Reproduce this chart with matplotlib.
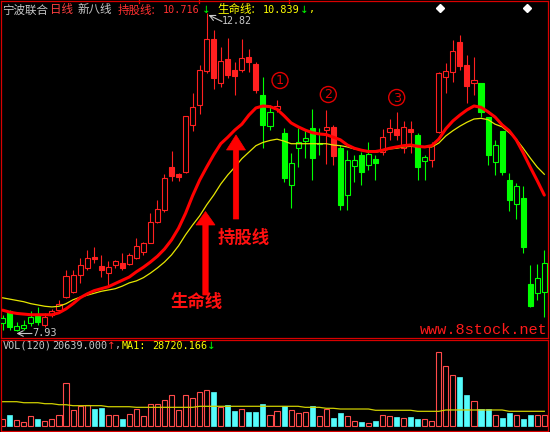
import matplotlib
matplotlib.use("Agg")
import matplotlib.pyplot as plt
from matplotlib.patches import Rectangle, Polygon, Circle

plt.rcParams['font.family'] = ['Noto Sans CJK SC', 'DejaVu Sans']

# ---- daily bars: 宁波联合 ----
opens = [8.05, 8.23, 7.95, 7.98, 8.05, 8.16, 8.02, 8.18, 8.25, 8.46,
         8.53, 8.79, 8.90, 9.07, 8.93, 8.82, 8.95, 8.98, 8.96, 9.05,
         9.15, 9.28, 9.61, 9.79, 10.45, 10.34, 10.38, 11.10, 11.41, 11.93,
         12.42, 11.74, 12.11, 11.94, 11.94, 12.14, 12.04, 11.56, 11.08, 11.34,
         10.98, 10.18, 10.74, 10.85, 11.05, 10.80, 11.02, 11.07, 10.74, 10.02,
         10.47, 10.64, 10.48, 10.58, 10.69, 10.99, 11.04, 10.74, 11.04, 10.94,
         10.54, 10.56, 10.99, 11.83, 11.92, 12.38, 12.02, 11.74, 11.74, 11.22,
         10.53, 11.01, 10.25, 9.88, 9.98, 8.65, 8.52, 8.53]
closes = [8.13, 7.99, 8.00, 8.02, 8.15, 8.07, 8.15, 8.23, 8.35, 8.78,
          8.79, 8.95, 9.05, 9.04, 8.87, 8.92, 9.01, 8.90, 9.10, 9.24,
          9.28, 9.61, 9.81, 10.28, 10.31, 10.30, 11.24, 11.38, 11.94, 12.42,
          11.82, 12.08, 11.87, 11.85, 12.13, 12.07, 11.64, 11.10, 11.30, 11.39,
          10.28, 10.51, 10.83, 10.90, 10.59, 10.82, 11.07, 10.62, 9.87, 10.56,
          10.56, 10.38, 10.65, 10.51, 10.92, 11.05, 10.94, 11.07, 10.99, 10.45,
          10.61, 10.79, 11.90, 11.93, 12.23, 12.01, 11.70, 11.79, 11.30, 10.64,
          10.79, 10.38, 9.94, 10.16, 9.22, 8.31, 8.75, 8.98]
highs = [8.18, 8.25, 8.07, 8.10, 8.23, 8.30, 8.21, 8.27, 8.41, 8.87,
         8.87, 9.05, 9.18, 9.22, 9.10, 9.01, 9.02, 9.13, 9.13, 9.36,
         9.30, 9.74, 9.94, 10.34, 10.70, 10.36, 11.24, 11.59, 12.02, 12.82,
         12.56, 12.30, 12.44, 12.07, 12.42, 12.27, 12.07, 11.84, 11.41, 11.48,
         11.05, 10.67, 11.05, 11.02, 11.34, 11.05, 11.33, 11.10, 10.79, 10.71,
         10.64, 10.68, 10.84, 10.64, 11.04, 11.19, 11.30, 11.16, 11.16, 10.98,
         10.64, 10.84, 11.91, 12.05, 12.41, 12.48, 12.17, 12.15, 11.74, 11.22,
         10.87, 11.01, 10.36, 10.21, 10.16, 8.95, 8.96, 9.17]
lows = [7.95, 7.95, 7.93, 7.95, 8.00, 8.02, 7.99, 8.15, 8.23, 8.44,
        8.51, 8.67, 8.87, 8.98, 8.76, 8.64, 8.90, 8.87, 8.95, 9.04,
        9.10, 9.28, 9.59, 9.76, 10.24, 10.24, 10.36, 11.01, 11.27, 11.90,
        11.65, 11.68, 11.82, 11.56, 11.91, 11.91, 11.59, 10.74, 11.02, 11.30,
        10.22, 9.82, 10.45, 10.59, 10.25, 10.64, 10.50, 10.48, 9.79, 9.79,
        10.22, 10.18, 10.41, 10.25, 10.64, 10.87, 10.87, 10.67, 10.67, 10.25,
        10.25, 10.45, 10.98, 11.59, 11.76, 11.94, 11.44, 11.56, 11.22, 10.48,
        10.33, 10.33, 9.78, 9.65, 9.13, 8.30, 8.40, 8.15]
# candle colour from the 新八线 state: r = strong, g = weak
candle_state = ("gggggg" + "r" * 31 + "gg" + "r" + "gggggg" + "rr"
                + "gggggg" + "rrrrr" + "gg" + "rrrrrrr" + "gggggggggg")

# 持股线 (red) and 生命线 (yellow)
hold_line = [8.25, 8.22, 8.20, 8.19, 8.18, 8.18, 8.18, 8.18, 8.21, 8.27,
             8.35, 8.44, 8.50, 8.55, 8.58, 8.61, 8.66, 8.71, 8.76, 8.84,
             8.91, 8.99, 9.08, 9.19, 9.33, 9.51, 9.74, 10.01, 10.25, 10.45,
             10.64, 10.81, 10.91, 11.02, 11.11, 11.25, 11.36, 11.39, 11.38, 11.34,
             11.24, 11.13, 11.07, 11.02, 10.98, 10.96, 10.95, 10.91, 10.87, 10.79,
             10.74, 10.71, 10.69, 10.69, 10.71, 10.74, 10.76, 10.78, 10.79, 10.77,
             10.76, 10.78, 10.88, 11.04, 11.16, 11.25, 11.33, 11.39, 11.37, 11.30,
             11.22, 11.10, 11.01, 10.87, 10.67, 10.45, 10.24, 10.02]
life_line = [8.44, 8.42, 8.40, 8.38, 8.35, 8.33, 8.31, 8.30, 8.31, 8.35,
             8.41, 8.45, 8.48, 8.51, 8.54, 8.56, 8.58, 8.62, 8.67, 8.70,
             8.75, 8.82, 8.90, 8.99, 9.10, 9.24, 9.41, 9.56, 9.70, 9.87,
             10.02, 10.19, 10.33, 10.45, 10.58, 10.68, 10.78, 10.83, 10.86, 10.88,
             10.85, 10.81, 10.81, 10.81, 10.81, 10.81, 10.81, 10.79, 10.78, 10.76,
             10.73, 10.71, 10.68, 10.68, 10.70, 10.73, 10.74, 10.76, 10.77, 10.76,
             10.76, 10.76, 10.82, 10.93, 11.01, 11.08, 11.14, 11.19, 11.20, 11.18,
             11.11, 11.07, 10.98, 10.88, 10.74, 10.59, 10.45, 10.34]

# volume and its moving average
volume = [14300, 20900, 12300, 8400, 20100, 14300, 10400, 14300, 21500, 84000,
          30700, 38500, 41600, 33200, 35200, 22100, 22100, 14300, 24000, 32600,
          20100, 43600, 43600, 50200, 61200, 30700, 61200, 54100, 67000, 70900,
          67000, 37700, 40400, 29300, 32600, 27400, 27400, 42400, 22100, 28700,
          38500, 30700, 25400, 27400, 39100, 19500, 32600, 16200, 25400, 19500,
          9800, 7800, 6400, 9200, 22100, 20100, 18200, 16200, 18200, 14300,
          14300, 9800, 144600, 117800, 99100, 95700, 60000, 49400, 33800, 33800,
          22100, 16200, 25400, 22100, 13100, 22100, 22100, 20639]
vol_up = ("RCRRRCRRRR" "RRRCCRRCRR" "RRRRRRRRRR" "CRCCRCCCRR"
          "CRRRCRRCCR" "RCRCRRCRCC" "RRRRRCCRCC" "RCCRCCRR")
vol_ma = ([47500] * 3 + [45500] * 3 + [43600] * 2 + [41600] * 2 + [39700] * 5
          + [37700] * 4 + [36500] * 9 + [38500] * 15 + [36500] * 3 + [34600] * 2
          + [33200] * 5 + [30700] * 6 + [28700] * 4 + [31300] * 9
          + [28720] * 5 + [28720.166])

hold_label = "10.716"
life_label = "10.839"
vol_label = "20639.000"
ma_label = "28720.166"
high_label = "12.82"
low_label = "7.93"

# ---- figure ----
W, H = 550, 432
fig = plt.figure(figsize=(W / 100, H / 100), dpi=100, facecolor="black")

FRAME = "#d80000"
RED = "#ff2020"
GREEN = "#00ff00"
CYAN = "#54fcfc"
YELLOW = "#ffff00"
GRAY = "#c8c8c8"
MONO = "DejaVu Sans Mono"


def px_axes(x0, y0, x1, y1):
    return fig.add_axes([x0 / W, 1 - y1 / H, (x1 - x0) / W, (y1 - y0) / H])


n = len(opens)
xmin, xmax = -0.2417, 77.524
bw = 0.72

ax = px_axes(1, 1, 548, 338)
ax.set_facecolor("black")
ax.set_xlim(xmin, xmax)
ax.set_ylim(7.8222, 13.0046)
ax.set_xticks([])
ax.set_yticks([])
for s in ax.spines.values():
    s.set_color(FRAME)
    s.set_linewidth(0.9)

for i in range(n):
    c = RED if candle_state[i] == "r" else GREEN
    ax.vlines(i, lows[i], highs[i], color=c, lw=0.8, zorder=2)
    lo, hi = sorted((opens[i], closes[i]))
    hollow = closes[i] >= opens[i]
    ax.add_patch(Rectangle((i - bw / 2, lo), bw, max(hi - lo, 0.01),
                           facecolor="black" if hollow else c,
                           edgecolor=c, lw=0.8, zorder=3))

xs = list(range(n))
ax.plot(xs, life_line, color="#e6e600", lw=0.9, zorder=4)
ax.plot(xs, hold_line, color="#ff0000", lw=2.2, zorder=5,
        solid_capstyle="round")

# ---- volume panel ----
vx = px_axes(1, 340, 548, 431)
vx.set_facecolor("black")
vx.set_xlim(xmin, xmax)
vx.set_ylim(-5 * 1954, 86 * 1954)
vx.set_xticks([])
vx.set_yticks([])
for s in vx.spines.values():
    s.set_color(FRAME)
    s.set_linewidth(0.9)
for i in range(n):
    if vol_up[i] == "R":
        vx.add_patch(Rectangle((i - bw / 2, 0), bw, volume[i],
                               facecolor="black", edgecolor="#ff4a4a",
                               lw=0.8, zorder=2))
    else:
        vx.add_patch(Rectangle((i - bw / 2, 0), bw, volume[i],
                               facecolor=CYAN, edgecolor=CYAN,
                               lw=0.5, zorder=2))
vx.plot(xs, vol_ma, color="#d0d000", lw=0.9, zorder=3)

# ---- overlay for labels ----
ov = fig.add_axes([0, 0, 1, 1], zorder=10)
ov.set_xlim(0, W)
ov.set_ylim(H, 0)
ov.axis("off")
ov.patch.set_alpha(0)


def txt(x, y, s, color, size=8.3, family=None, **kw):
    fam = family if family else ['Noto Sans CJK SC', 'DejaVu Sans']
    ov.text(x, y, s, color=color, fontsize=size, family=fam,
            ha="left", va="center", **kw)


# header line
ty = 10
txt(2, ty, "宁波联合", GRAY)
txt(50, ty, "日线", "#ff4040")
txt(78, ty, "新八线", GRAY)
txt(118, ty, "持股线:", "#ff3030")
txt(163, ty, hold_label, "#ff3030", size=7.3, family=MONO)
txt(201.5, ty, "↓", GREEN, size=7.5, family="DejaVu Sans")
txt(217, ty, "生命线:", YELLOW)
txt(263, ty, life_label, YELLOW, size=7.3, family=MONO)
txt(299.5, ty, "↓", GREEN, size=7.5, family="DejaVu Sans")
txt(309, ty - 1, ",", YELLOW, size=7.3, family=MONO)

# short date marks on the upper border
for mx in (139, 199, 289):
    ov.plot([mx, mx], [0, 3], color=FRAME, lw=0.9)

# highest / lowest marks
ov.annotate("", xy=(208.5, 15), xytext=(222, 21.5),
            arrowprops=dict(arrowstyle="->", color=GRAY, lw=0.8,
                            shrinkA=0, shrinkB=0))
txt(222, 21.5, high_label, GRAY, size=7.2, family=MONO)
ov.annotate("", xy=(16.5, 333.5), xytext=(32, 333.5),
            arrowprops=dict(arrowstyle="->", color=GRAY, lw=0.8,
                            shrinkA=0, shrinkB=0))
txt(32, 333.5, low_label, GRAY, size=7.4, family=MONO)

# white signal diamonds
ov.plot([440, 527], [7.5, 7.5], linestyle="none", marker="D",
        markersize=3.6, color="white")

# circled stage markers
for (cx, cy, d) in ((280, 80.5, "1"), (328.3, 94.5, "2"), (396.7, 97.5, "3")):
    ov.add_patch(Circle((cx, cy), 8.0, fill=False, edgecolor="#e00000", lw=1.0))
    ov.text(cx, cy + 0.5, d, color="#e00000", fontsize=9.2, family="DejaVu Sans",
            ha="center", va="center")


# big red pointers
def pointer(xc, tip, base, bottom, head_hw=9.5, shaft_hw=2.7):
    pts = [(xc, tip), (xc + head_hw, base), (xc + shaft_hw, base),
           (xc + shaft_hw, bottom), (xc - shaft_hw, bottom),
           (xc - shaft_hw, base), (xc - head_hw, base)]
    ov.add_patch(Polygon(pts, closed=True, facecolor="#ff0000",
                         edgecolor="#ff0000", lw=0.5))


pointer(236, 135, 150, 219)
pointer(205.5, 211.5, 225, 295)
txt(218, 238, "持股线", "#ff1010", size=12.5, fontweight="bold")
txt(170, 302, "生命线", "#ff1010", size=12.5, fontweight="bold")

# site watermark
txt(420, 330, "www.8stock.net", "#ff1a1a", size=11, family="Liberation Mono")

# volume header
vy = 346
txt(3, vy, "VOL(120)", GRAY, size=7.3, family=MONO)
txt(52, vy, vol_label, GRAY, size=7.3, family=MONO)
txt(106.5, vy, "↑", "#ff3030", size=7.5, family="DejaVu Sans")
txt(114.5, vy - 1, ",", GRAY, size=7.3, family=MONO)
txt(122, vy, "MA1:", YELLOW, size=7.3, family=MONO)
txt(152, vy, ma_label, YELLOW, size=7.3, family=MONO)
txt(207, vy, "↓", GREEN, size=7.5, family="DejaVu Sans")

fig.savefig("out.png", dpi=100, facecolor="black")
